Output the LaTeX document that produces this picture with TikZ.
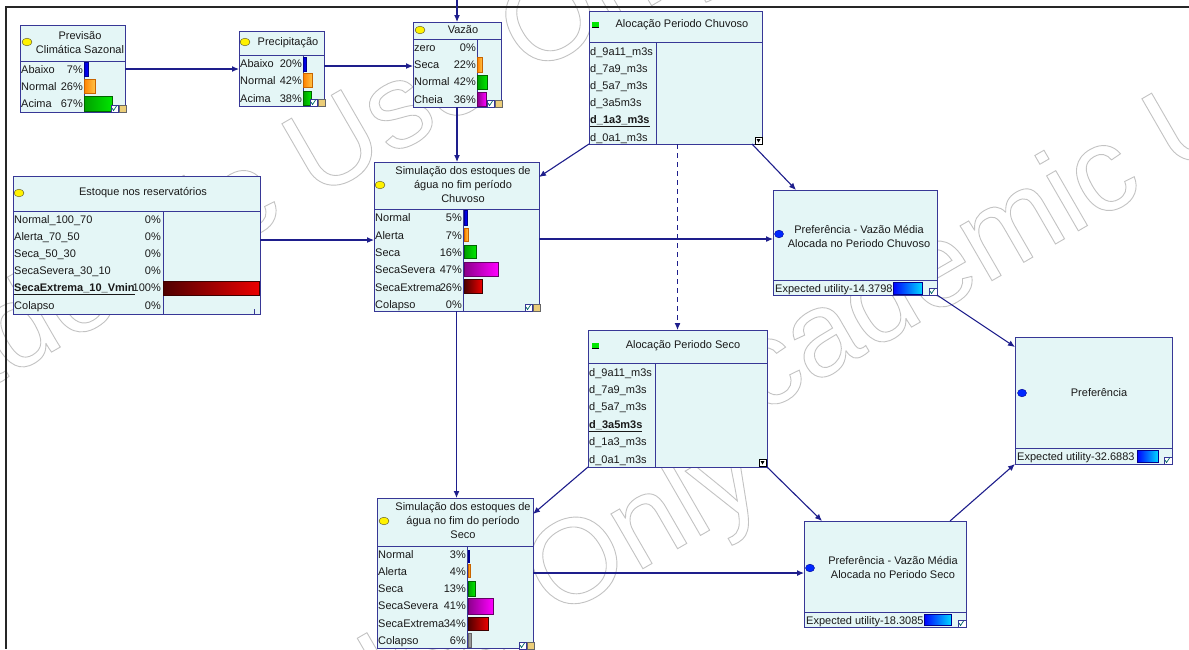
\documentclass[tikz,border=0pt]{standalone}
\usepackage{fontspec}
\setmainfont{Liberation Sans}
\usetikzlibrary{arrows.meta}
\definecolor{nfill}{RGB}{228,246,246}
\definecolor{nbord}{RGB}{55,55,150}
\definecolor{ecol}{RGB}{30,30,140}
\definecolor{wm}{RGB}{195,195,195}
\definecolor{txt}{RGB}{25,25,25}
\definecolor{iconyel}{RGB}{235,205,120}
\definecolor{blA}{RGB}{0,0,210}\definecolor{blB}{RGB}{0,0,255}\definecolor{blD}{RGB}{0,0,140}
\definecolor{orA}{RGB}{255,130,0}\definecolor{orB}{RGB}{255,195,70}\definecolor{orD}{RGB}{200,100,0}
\definecolor{grA}{RGB}{0,160,0}\definecolor{grB}{RGB}{0,230,0}\definecolor{grD}{RGB}{0,100,0}
\definecolor{puA}{RGB}{140,0,140}\definecolor{puB}{RGB}{255,0,255}\definecolor{puD}{RGB}{100,0,100}
\definecolor{reA}{RGB}{80,0,0}\definecolor{reB}{RGB}{235,0,0}\definecolor{reD}{RGB}{60,0,0}
\definecolor{utA}{RGB}{0,0,255}\definecolor{utB}{RGB}{0,215,255}
\newcommand\wmtext{\textcolor{wm}{\special{pdf:literal direct 1 Tr 0.9 w}Academic Use Only\special{pdf:literal direct 0 Tr}}}
\newcommand\mylbl[3]{\node[lbl] at (#1,#2+4) {#3};}
\newcommand\mypct[3]{\node[pct] at (#1,#2+4) {#3};}
\newcommand\mybar[5]{\path[barbox,#5] (#1,#2) rectangle (#3,#4);}
\newcommand\yel[2]{\draw[fill=yellow, draw=black!60!olive, line width=0.4pt] (#1,#2) ellipse [x radius=5pt, y radius=3.8pt];}
\newcommand\bdot[2]{\draw[fill={rgb,255:red,0;green,40;blue,255}, draw=blD, line width=0.4pt] (#1,#2) ellipse [x radius=4.5pt, y radius=3.8pt];}
\newcommand\gsq[2]{\fill[grB] (#1,#2-3) rectangle (#1+7,#2+2.5); \draw[black, line width=0.9pt] (#1,#2+2.5) -- (#1+7,#2+2.5);}
\newcommand\chanceicons[2]{%
 \draw[draw=nbord, fill=white, line width=0.4pt] (#1-15,#2-7) rectangle (#1-8,#2);
 \draw[teal!80!black, line width=0.7pt] (#1-14,#2-4) -- (#1-12.5,#2-1.5) -- (#1-9.5,#2-6);
 \draw[draw=black!60, fill=iconyel, line width=0.4pt] (#1-7,#2-7) rectangle (#1,#2);}
\newcommand\utilicon[2]{%
 \draw[draw=nbord, fill=white, line width=0.4pt] (#1-8,#2-7) rectangle (#1,#2);
 \draw[teal!80!black, line width=0.7pt] (#1-7,#2-4) -- (#1-5.5,#2-1.5) -- (#1-2.5,#2-6);}
\newcommand\deciicon[2]{%
 \draw[draw=black, fill=white, line width=0.4pt] (#1-7,#2-7) rectangle (#1,#2);
 \fill[black] (#1-5.5,#2-5) -- (#1-1.5,#2-5) -- (#1-3.5,#2-1.5) -- cycle;}
\begin{document}
\begin{tikzpicture}[x=1pt,y=-1pt,
  font=\fontsize{11}{14}\selectfont,
  nodebox/.style={draw=nbord, fill=nfill, line width=0.9pt, inner sep=0pt, outer sep=0pt, anchor=north west},
  sepline/.style={draw=nbord, line width=0.9pt},
  lbl/.style={anchor=base west, inner sep=0pt, text=txt},
  pct/.style={anchor=base east, inner sep=0pt, text=txt},
  ttl/.style={align=center, inner sep=0pt, text=txt},
  barbox/.style={line width=0.5pt},
  bbl/.style={left color=blA, right color=blB, draw=blD},
  borg/.style={left color=orA, right color=orB, draw=orD},
  bgrn/.style={left color=grA, right color=grB, draw=grD},
  bpur/.style={left color=puA, right color=puB, draw=puD},
  bred/.style={left color=reA, right color=reB, draw=reD},
  bgry/.style={fill=black!40, draw=black!60},
  butl/.style={left color=utA, right color=utB, draw=blD},
  conn/.style={draw=ecol, line width=1.1pt, -{Latex[length=7pt,width=6pt]}},
  wmark/.style={rotate=30, anchor=base west, inner sep=0pt, font=\fontsize{120}{120}\selectfont}
]
\useasboundingbox (0,0) rectangle (1189,649);
\fill[white] (0,0) rectangle (1189,649);
% watermark
\node[wmark] (wmA) at (-170,480) {\wmtext};
\node[wmark] (wmB) at (690,455) {\wmtext};
\node[wmark] (wmC) at (-144,1023) {\wmtext};
% frame
\draw[black!85, line width=2.6pt] (5,7) -- (1189,7);
\draw[black!85, line width=2pt] (5.5,6) -- (5.5,649);

% ---------- Previsão Climática Sazonal
\node[nodebox, minimum width=105pt, minimum height=87pt] (prev) at (20,25) {};
\draw[sepline] (20,61) -- (125,61) (84,61) -- (84,112);
\yel{27}{42}
\node[ttl] at (80,42.5) {Previsão\\Climática Sazonal};
\mylbl{21}{69}{Abaixo}\mypct{83}{69}{7\%}
\mylbl{21}{86}{Normal}\mypct{83}{86}{26\%}
\mylbl{21}{103}{Acima}\mypct{83}{103}{67\%}
\mybar{84}{62}{88}{76}{bbl}
\mybar{84}{79}{95}{93}{borg}
\mybar{84}{96}{112}{111}{bgrn}
\chanceicons{126}{112}

% ---------- Precipitação
\node[nodebox, minimum width=85pt, minimum height=75pt] (prec) at (239,31) {};
\draw[sepline] (239,55) -- (324,55) (303,55) -- (303,106);
\yel{245}{42}
\node[ttl] at (288,43) {Precipitação};
\mylbl{240}{63}{Abaixo}\mypct{302}{63}{20\%}
\mylbl{240}{80}{Normal}\mypct{302}{80}{42\%}
\mylbl{240}{98}{Acima}\mypct{302}{98}{38\%}
\mybar{303.5}{57}{306.5}{71}{bbl}
\mybar{303.5}{73}{312}{87}{borg}
\mybar{303.5}{91}{311}{105}{bgrn}
\chanceicons{325}{106}

% ---------- Vazão
\node[nodebox, minimum width=88pt, minimum height=85pt] (vaz) at (413,22) {};
\draw[sepline] (413,39) -- (501,39) (477,39) -- (477,107);
\yel{420}{30}
\node[ttl] at (463,30) {Vazão};
\mylbl{414}{47}{zero}\mypct{476}{47}{0\%}
\mylbl{414}{64}{Seca}\mypct{476}{64}{22\%}
\mylbl{414}{81}{Normal}\mypct{476}{81}{42\%}
\mylbl{414}{99}{Cheia}\mypct{476}{99}{36\%}
\mybar{477.5}{57}{482}{72}{borg}
\mybar{477.5}{75}{487}{89}{bgrn}
\mybar{477.5}{92}{486}{106}{bpur}
\chanceicons{502}{107}

% ---------- Alocação Periodo Chuvoso
\node[nodebox, minimum width=173pt, minimum height=133pt] (alocC) at (589,11) {};
\draw[sepline] (589,42) -- (762,42) (656,42) -- (656,144);
\gsq{592}{25}
\node[ttl] at (682,25) {Alocação Periodo Chuvoso};
\mylbl{590}{51}{d\_9a11\_m3s}
\mylbl{590}{68}{d\_7a9\_m3s}
\mylbl{590}{85}{d\_5a7\_m3s}
\mylbl{590}{102}{d\_3a5m3s}
\mylbl{590}{119}{\underline{\textbf{d\_1a3\_m3s}}}
\mylbl{590}{137}{d\_0a1\_m3s}
\deciicon{762}{144}

% ---------- Estoque nos reservatórios
\node[nodebox, minimum width=247pt, minimum height=138pt] (est) at (13,176) {};
\draw[sepline] (13,211) -- (260,211) (163,211) -- (163,314);
\yel{19}{193}
\node[ttl] at (143,193) {Estoque nos reservatórios};
\mylbl{14}{219}{Normal\_100\_70}\mypct{161}{219}{0\%}
\mylbl{14}{236}{Alerta\_70\_50}\mypct{161}{236}{0\%}
\mylbl{14}{253}{Seca\_50\_30}\mypct{161}{253}{0\%}
\mylbl{14}{270}{SecaSevera\_30\_10}\mypct{161}{270}{0\%}
\mylbl{14}{287}{\underline{\textbf{SecaExtrema\_10\_Vmin}}}\mypct{161}{287}{100\%}
\mylbl{14}{305}{Colapso}\mypct{161}{305}{0\%}
\mybar{163.5}{281}{259.5}{295}{bred}
\draw[nbord, line width=0.8pt] (254,314) -- (254,309);

% ---------- Simulação ... Chuvoso
\node[nodebox, minimum width=165pt, minimum height=149pt] (simC) at (374,162) {};
\draw[sepline] (374,209) -- (539,209) (463,209) -- (463,311);
\yel{380}{185}
\node[ttl] at (463,185) {Simulação dos estoques de\\água no fim período\\Chuvoso};
\mylbl{375}{217}{Normal}\mypct{462}{217}{5\%}
\mylbl{375}{235}{Alerta}\mypct{462}{235}{7\%}
\mylbl{375}{252}{Seca}\mypct{462}{252}{16\%}
\mylbl{375}{269}{SecaSevera}\mypct{462}{269}{47\%}
\mylbl{375}{287}{SecaExtrema}\mypct{462}{287}{26\%}
\mylbl{375}{304}{Colapso}\mypct{462}{304}{0\%}
\mybar{464.5}{210}{467}{225}{bbl}
\mybar{464.5}{228}{468}{241}{borg}
\mybar{464.5}{245}{476}{258}{bgrn}
\mybar{464.5}{262}{498}{276}{bpur}
\mybar{464.5}{279}{482}{293}{bred}
\chanceicons{540}{311}

% ---------- Preferência - Chuvoso
\node[nodebox, minimum width=164pt, minimum height=105pt] (prefC) at (773,190) {};
\draw[sepline] (773,280) -- (937,280);
\bdot{779}{234}
\node[ttl] at (859,236.5) {Preferência - Vazão Média\\Alocada no Periodo Chuvoso};
\node[lbl] at (775,292) {Expected utility-14.3798};
\mybar{893}{282}{922}{294}{butl}
\utilicon{937}{295}

% ---------- Alocação Periodo Seco
\node[nodebox, minimum width=179pt, minimum height=137pt] (alocS) at (588,330) {};
\draw[sepline] (588,363) -- (767,363) (655,363) -- (655,467);
\gsq{592}{346}
\node[ttl] at (683,346) {Alocação Periodo Seco};
\mylbl{589}{372}{d\_9a11\_m3s}
\mylbl{589}{389}{d\_7a9\_m3s}
\mylbl{589}{406}{d\_5a7\_m3s}
\mylbl{589}{424}{\underline{\textbf{d\_3a5m3s}}}
\mylbl{589}{441}{d\_1a3\_m3s}
\mylbl{589}{459}{d\_0a1\_m3s}
\deciicon{766}{466}

% ---------- Preferência
\node[nodebox, minimum width=157pt, minimum height=127pt] (pref) at (1015,337) {};
\draw[sepline] (1015,448) -- (1172,448);
\bdot{1022}{393}
\node[ttl] at (1099,393) {Preferência};
\node[lbl] at (1017,460) {Expected utility-32.6883};
\mybar{1137}{450}{1158}{462}{butl}
\utilicon{1172}{464}

% ---------- Simulação ... Seco
\node[nodebox, minimum width=156pt, minimum height=150pt] (simS) at (377,498) {};
\draw[sepline] (377,546) -- (533,546) (467,546) -- (467,648);
\yel{384}{521}
\node[ttl] at (463,521) {Simulação dos estoques de\\água no fim do período\\Seco};
\mylbl{378}{554}{Normal}\mypct{466}{554}{3\%}
\mylbl{378}{571}{Alerta}\mypct{466}{571}{4\%}
\mylbl{378}{588}{Seca}\mypct{466}{588}{13\%}
\mylbl{378}{605}{SecaSevera}\mypct{466}{605}{41\%}
\mylbl{378}{623}{SecaExtrema}\mypct{466}{623}{34\%}
\mylbl{378}{640}{Colapso}\mypct{466}{640}{6\%}
\mybar{468}{550}{469.5}{562}{bbl}
\mybar{468}{564}{470.5}{577}{borg}
\mybar{468}{581}{475}{596}{bgrn}
\mybar{468}{598}{493}{614}{bpur}
\mybar{468}{617}{488}{630}{bred}
\mybar{468}{633}{471}{647}{bgry}
\chanceicons{534}{649}

% ---------- Preferência - Seco
\node[nodebox, minimum width=162pt, minimum height=106pt] (prefS) at (804,521) {};
\draw[sepline] (804,612) -- (966,612);
\bdot{810}{568}
\node[ttl] at (893,567.5) {Preferência - Vazão Média\\Alocada no Periodo Seco};
\node[lbl] at (806,624) {Expected utility-18.3085};
\mybar{924}{614}{951}{625}{butl}
\utilicon{966}{627}

% ---------- connectors
\coordinate (vin) at (457,0);
\draw[conn] (prev.east |- 0,69) -- (prec.west |- 0,69);
\draw[conn] (prec.east |- 0,66) -- (vaz.west |- 0,66);
\draw[conn] (vin) -- (vaz.north);
\draw[conn] (vaz.south) -- (simC.north -| vaz.south);
\draw[conn] (alocC.south west) -- (simC.east |- 0,177);
\draw[conn, dash pattern=on 5pt off 4pt] (alocS.north |- alocC.south) -- (alocS.north);
\draw[conn] ([xshift=-10pt]alocC.south east) -- ([xshift=23pt]prefC.north west);
\draw[conn] (est.east |- 0,240) -- (simC.west |- 0,240);
\draw[conn] (simC.east |- 0,239) -- (prefC.west |- 0,239);
\draw[conn] (simC.south) -- (simC.south |- simS.north);
\draw[conn] (alocS.south west) -- (simS.east |- 0,514);
\draw[conn] (alocS.south east) -- ([xshift=18pt]prefS.north west);
\draw[conn] (simS.east |- 0,573) -- (prefS.west |- 0,573);
\draw[conn] (prefC.south east) -- ([yshift=-10pt]pref.north west);
\draw[conn] ([xshift=-16pt]prefS.north east) -- (pref.south west);
\end{tikzpicture}
\end{document}
